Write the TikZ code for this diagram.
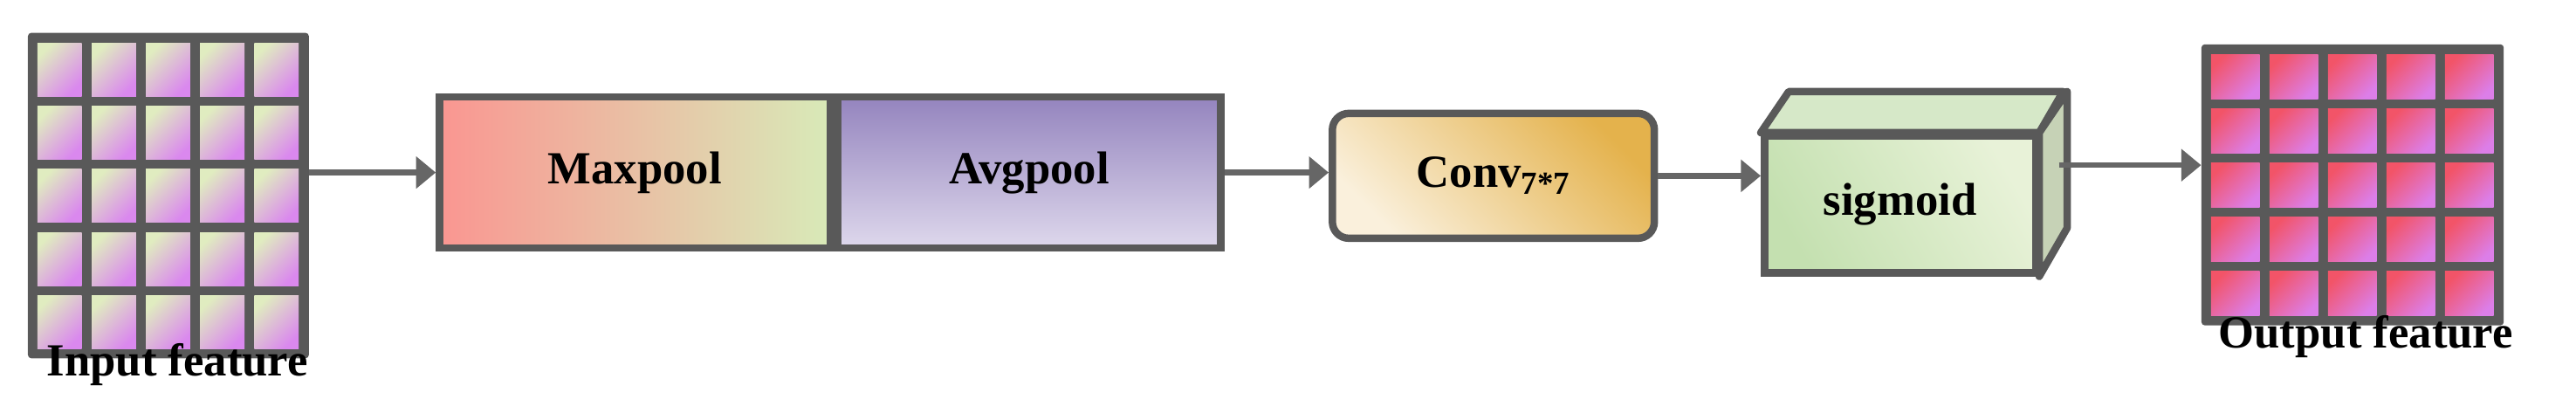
\documentclass[tikz,border=0pt]{standalone}
\usepackage{fontspec}
\setmainfont{Liberation Serif}
\usetikzlibrary{arrows.meta, positioning, calc, shadings}
\definecolor{frameclr}{HTML}{595959}
\definecolor{arrowclr}{HTML}{666666}
\definecolor{inA}{HTML}{E0ECC0}
\definecolor{inB}{HTML}{DA88EE}
\definecolor{outA}{HTML}{F25468}
\definecolor{outB}{HTML}{DC7EE8}
\definecolor{maxA}{HTML}{FA9691}
\definecolor{maxB}{HTML}{D8EAB8}
\definecolor{avgA}{HTML}{9484BE}
\definecolor{avgB}{HTML}{DED8EC}
\definecolor{convA}{HTML}{FAF0DC}
\definecolor{convB}{HTML}{E4B24C}
\definecolor{sigA}{HTML}{C4E0B0}
\definecolor{sigB}{HTML}{E8F2D8}
\definecolor{sigTop}{HTML}{D6E8C8}
\definecolor{sigSide}{HTML}{C6D2B6}

\begin{document}
\begin{tikzpicture}[
    x=1pt, y=1pt,
    every node/.style={font=\fontsize{28}{32}\selectfont\bfseries}, % 统一字体
    grid/.style={fill=frameclr, rounded corners=2pt, inner sep=0pt}, % 特征图外框
    incell/.style={left color=inA, right color=inB, shading angle=45},
    outcell/.style={left color=outA, right color=outB, shading angle=45},
    block/.style={draw=frameclr, line width=4.5pt, minimum height=92pt, inner sep=0pt},
    flow/.style={draw=arrowclr, line width=3.5pt, -{Triangle[length=12pt, width=19pt]}}
]
    \useasboundingbox (0,0) rectangle (1568,251);

    % 1. 输入特征图
    \node[grid, minimum width=171pt, minimum height=198pt] (in) at (102.5,132) {};
    \foreach \i in {0,...,4} {
        \foreach \j in {0,...,4} {
            \shade[incell] ($(in.south west)+(6+\i*33, 6+\j*38.4)$) rectangle +(27,32.4);
        }
    }
    \node (inlabel) at (108,29) {Input feature};

    % 2. Maxpool / Avgpool
    \node[block, minimum width=238pt, shading angle=135, left color=maxA, right color=maxB]
          (max) at (386.5,146) {Maxpool};
    \node[block, minimum width=233pt, top color=avgA, bottom color=avgB, right=0pt of max]
          (avg) {Avgpool};

    % 3. 卷积
    \node[block, minimum width=196pt, minimum height=76pt, rounded corners=10pt,
          left color=convA, right color=convB, shading angle=135]
          (conv) at (909,144) {Conv\textsubscript{7*7}};

    % 4. sigmoid 立方体
    \node[block, minimum width=165pt, minimum height=83pt,
          left color=sigA, right color=sigB, shading angle=120]
          (sig) at (1156.5,126.5) {\raisebox{4pt}{sigmoid}};
    \filldraw[draw=frameclr, line width=4.5pt, fill=sigTop, line join=round]
        (sig.north west) -- ++(17,25) -- ++(167,0) -- (sig.north east) -- cycle;
    \filldraw[draw=frameclr, line width=4.5pt, fill=sigSide, line join=round]
        (sig.north east) -- ++(17,25) -- ++(0,-83) -- (sig.south east) -- cycle;
    \coordinate (sigout) at ($(sig.east)+(12,24)$);

    % 5. 输出特征图
    \node[grid, minimum width=184pt, minimum height=171pt] (out) at (1432,138.5) {};
    \foreach \i in {0,...,4} {
        \foreach \j in {0,...,4} {
            \shade[outcell] ($(out.south west)+(6+\i*35.6, 6+\j*33)$) rectangle +(29.6,27);
        }
    }
    \node (outlabel) at (1440,46) {Output feature};

    % 6. 连接箭头
    \draw[flow] (max.west -| in.east) -- (max.west);
    \draw[flow] (avg.east) -- (avg.east -| conv.west);
    \draw[flow] (conv.east) -- (conv.east -| sig.west);
    \draw[flow] (sigout) -- (sigout -| out.west);

\end{tikzpicture}
\end{document}
